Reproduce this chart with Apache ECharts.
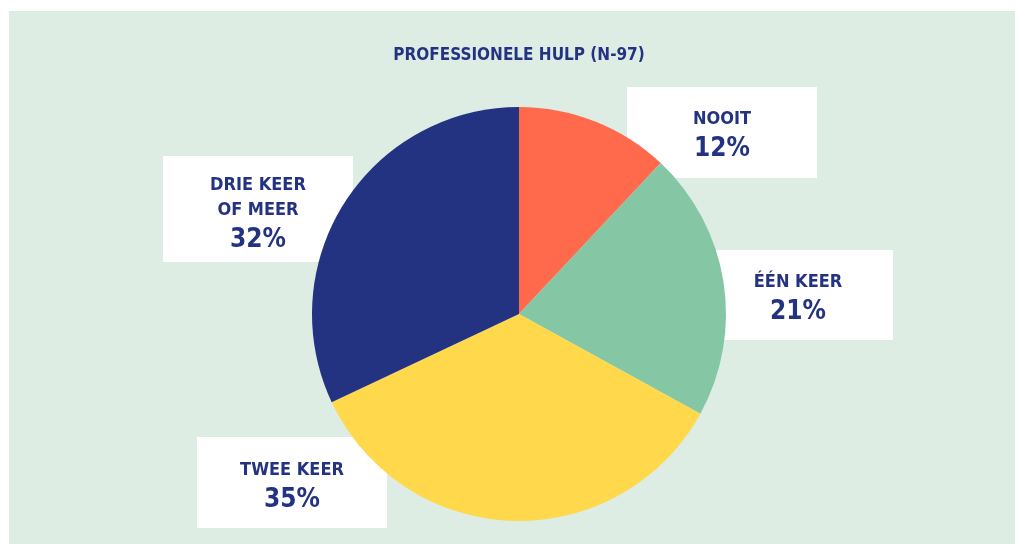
<!DOCTYPE html>
<html>
<head>
<meta charset="utf-8">
<script src="https://cdn.jsdelivr.net/npm/echarts@6/dist/echarts.min.js"></script>
<style>
  html, body { margin: 0; padding: 0; background: #fff; }
  #main { width: 1015px; height: 544px; }
</style>
</head>
<body>
<div id="main"></div>
<script>
// antwoorden en percentages
var categories = ['NOOIT', 'ÉÉN KEER', 'TWEE KEER', 'DRIE KEER\nOF MEER'];
var values = [12, 21, 35, 32];
var colors = ['#ff6a4d', '#85c7a4', '#ffd84b', '#243381'];
var titleText = 'PROFESSIONELE HULP (N-97)';

var font = '"Liberation Sans Narrow", "DejaVu Sans Condensed", "Arial Narrow", sans-serif';
var navy = '#243381';

// label boxes: [left, top, width, height, paddingTop]
var boxes = [
    [627, 87, 190, 91, 20],
    [703, 250, 190, 90, 20],
    [197, 437, 190, 91, 21],
    [163, 156, 190, 106, 17]
];

var chart = echarts.init(document.getElementById('main'));

var graphics = [{
    type: 'rect',
    shape: { x: 9, y: 11, width: 1006, height: 533 },
    style: { fill: '#deede3' },
    z: 0,
    silent: true
}, {
    // titel
    type: 'text',
    x: 519,
    y: 46,
    z: 1,
    silent: true,
    style: {
        text: titleText,
        align: 'center',
        verticalAlign: 'top',
        fill: navy,
        font: 'bold 17px ' + font,
        lineHeight: 20
    }
}];

for (var i = 0; i < categories.length; i++) {
    var b = boxes[i];
    var lines = categories[i].split('\n');
    var txt = '';
    for (var j = 0; j < lines.length; j++) {
        txt += '{n|' + lines[j] + '}\n';
    }
    txt += '{p|' + values[i] + '%}';
    graphics.push({
        type: 'rect',
        shape: { x: b[0], y: b[1], width: b[2], height: b[3] },
        style: { fill: '#ffffff' },
        z: 1,
        silent: true
    });
    graphics.push({
        type: 'text',
        x: b[0] + b[2] / 2,
        y: b[1] + b[4],
        z: 1,
        silent: true,
        style: {
            text: txt,
            align: 'center',
            verticalAlign: 'top',
            fill: navy,
            rich: {
                n: { fontSize: 18, fontWeight: 'bold', fontFamily: font, lineHeight: 25, fill: navy, align: 'center' },
                p: { fontSize: 26, fontWeight: 'bold', fontFamily: font, lineHeight: 34, fill: navy, align: 'center' }
            }
        }
    });
}

var pieData = [];
for (var i = 0; i < categories.length; i++) {
    pieData.push({ name: categories[i], value: values[i], itemStyle: { color: colors[i] } });
}

var option = {
    backgroundColor: '#ffffff',
    animation: false,
    graphic: graphics,
    series: [{
        type: 'pie',
        z: 2,
        center: [519, 314],
        radius: 207,
        startAngle: 90,
        clockwise: true,
        silent: true,
        label: { show: false },
        labelLine: { show: false },
        emphasis: { disabled: true },
        data: pieData
    }]
};

chart.setOption(option);
</script>
</body>
</html>
